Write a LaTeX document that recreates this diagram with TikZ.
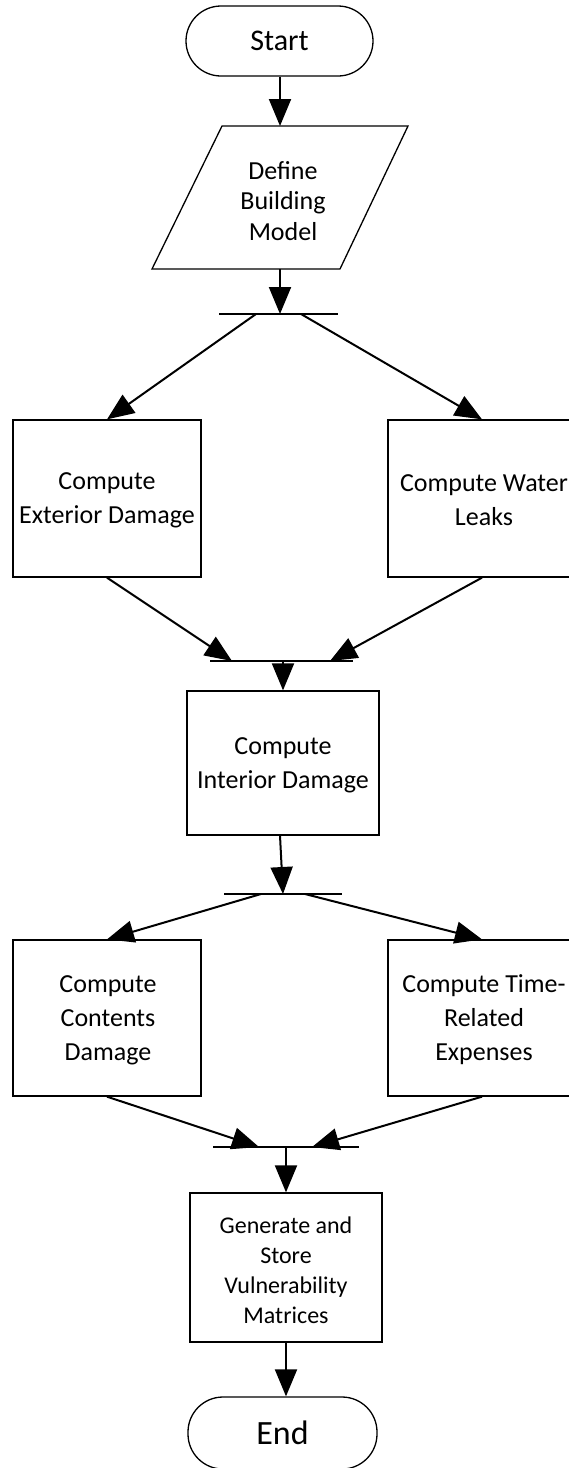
\documentclass[tikz,border=0pt]{standalone}
\usepackage{fontspec}
\setmainfont{Carlito}
\usetikzlibrary{arrows.meta}
\begin{document}
\begin{tikzpicture}[x=1pt,y=-1pt,
  box/.style={draw=black,line width=1.3pt,rectangle,inner sep=0pt},
  term/.style={draw=black,line width=1.3pt,rectangle,rounded corners=35pt,inner sep=0pt},
  txt/.style={align=center,inner sep=0pt,font=\fontsize{26}{34}\selectfont},
  arr/.style={line width=2pt,-{Triangle[length=27pt,width=22pt]}},
  bar/.style={line width=2.2pt}]
\useasboundingbox (0,0) rectangle (568,1468);

% Start
\node[term,minimum width=187pt,minimum height=70pt,font=\fontsize{30}{36}\selectfont] (start) at (279.5,41) {Start};

% Define Building Model (parallelogram)
\draw[line width=1.3pt] (222,126) -- (408,126) -- (340,269) -- (152,269) -- cycle;
\coordinate (deftop) at (280,126);
\coordinate (defbot) at (280,269);
\node[txt,font=\fontsize{26}{30.5}\selectfont] (define) at (283,201) {Define\\Building\\Model};

% bar 1
\coordinate (b1a) at (219,314);
\coordinate (b1b) at (338,314);
\coordinate (b1c) at (280,314);
\coordinate (b1l) at (256,314);
\coordinate (b1r) at (301,314);
\draw[bar] (b1a) -- (b1b);

% Exterior / Water
\node[box,minimum width=188pt,minimum height=157pt] (ext) at (107,498.5) {};
\node[txt] (exttxt) at (107,500) {Compute\\Exterior Damage};
\node[box,minimum width=188pt,minimum height=157pt] (water) at (482,498.5) {};
\node[txt] (watertxt) at (484,500) {Compute Water\\Leaks};

% bar 2
\coordinate (b2a) at (210,661);
\coordinate (b2b) at (353,661);
\coordinate (b2l) at (232,661);
\coordinate (b2r) at (330,661);
\coordinate (b2c) at (283,661);
\draw[bar] (b2a) -- (b2b);

% Interior
\node[box,minimum width=192pt,minimum height=144pt] (int) at (283,763) {};
\node[txt] (inttxt) at (283,765) {Compute\\Interior Damage};

% bar 3
\coordinate (b3a) at (224,894);
\coordinate (b3b) at (342,894);
\coordinate (b3l) at (261,894);
\coordinate (b3r) at (305,894);
\coordinate (b3c) at (283,894);
\draw[bar] (b3a) -- (b3b);

% Contents / Time
\node[box,minimum width=188pt,minimum height=156pt] (cont) at (107,1018) {};
\node[txt] (conttxt) at (108,1020) {Compute\\Contents\\Damage};
\node[box,minimum width=188pt,minimum height=156pt] (time) at (482,1018) {};
\node[txt] (timetxt) at (484,1020) {Compute Time-\\Related\\Expenses};

% bar 4
\coordinate (b4a) at (213,1147);
\coordinate (b4b) at (359,1147);
\coordinate (b4l) at (259,1147);
\coordinate (b4r) at (312,1147);
\coordinate (b4c) at (286,1147);
\draw[bar] (b4a) -- (b4b);

% Generate
\node[box,minimum width=192pt,minimum height=149pt] (gen) at (286,1267.5) {};
\node[txt,font=\fontsize{24}{30}\selectfont] (gentxt) at (286,1270) {Generate and\\Store\\Vulnerability\\Matrices};

% End
\node[term,minimum width=189pt,minimum height=72pt,font=\fontsize{34}{40}\selectfont] (end) at (282.5,1433) {End};

% connectors
\draw[arr] (start.south -| deftop) -- (deftop);
\draw[arr] (defbot) -- (b1c);
\draw[arr] (b1l) -- (ext.north);
\draw[arr] (b1r) -- (water.north);
\draw[arr] (ext.south) -- (b2l);
\draw[arr] (water.south) -- (b2r);
\draw[arr] (b2c) -- (int.north);
\draw[arr] (int.south -| 280,0) -- (b3c);
\draw[arr] (b3l) -- (cont.north);
\draw[arr] (b3r) -- (time.north);
\draw[arr] (cont.south) -- (b4l);
\draw[arr] (time.south) -- (b4r);
\draw[arr] (b4c) -- (gen.north);
\draw[arr] (gen.south) -- (end.north -| gen.south);
\end{tikzpicture}
\end{document}
